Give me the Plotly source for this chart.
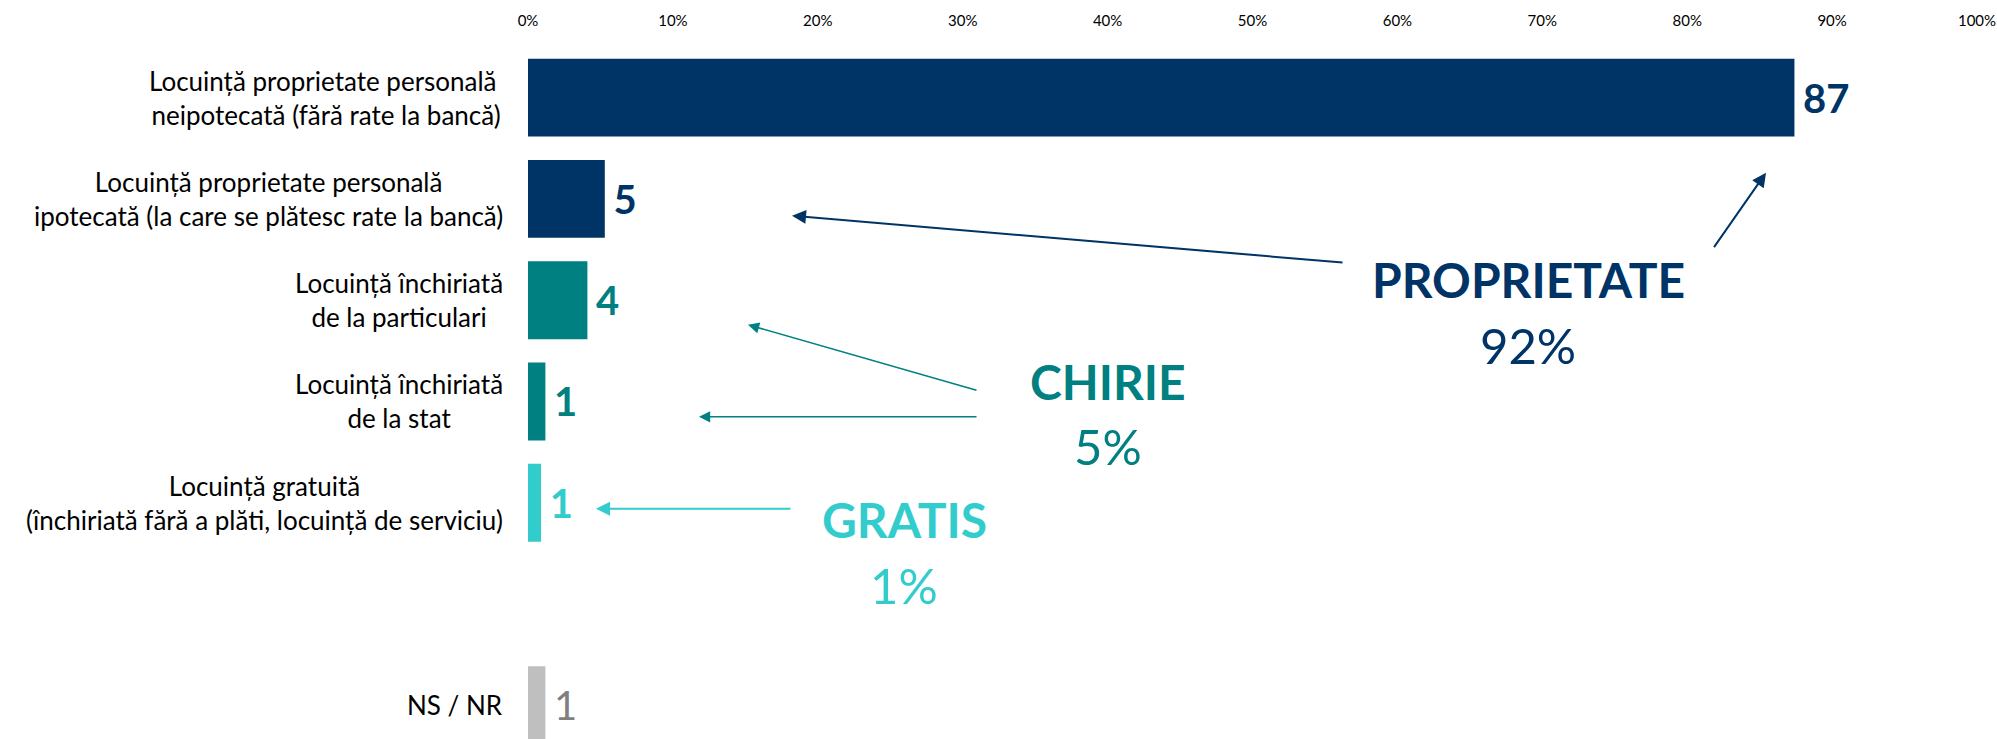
import plotly.graph_objects as go

# ---------------- data ----------------
categories = [
    "Locuință proprietate personală <br>neipotecată (fără rate la bancă)",
    "Locuință proprietate personală<br>ipotecată (la care se plătesc rate la bancă)",
    "Locuință închiriată<br>de la particulari",
    "Locuință închiriată<br>de la stat",
    "Locuință gratuită<br>(închiriată fără a plăti, locuință de serviciu)",
    "NS / NR",
]
values = [87.4, 5.3, 4.1, 1.2, 0.9, 1.2]
value_labels = ["87", "5", "4", "1", "1", "1"]
bar_colors = ["#003366", "#003366", "#008080", "#008080", "#33CCCC", "#BFBFBF"]
label_colors = ["#003366", "#003366", "#008080", "#008080", "#33CCCC", "#7F7F7F"]
label_bold = [True, True, True, True, True, False]

x_ticks = [0, 10, 20, 30, 40, 50, 60, 70, 80, 90, 100]
x_tick_labels = [f"{t}%" for t in x_ticks]

groups = ["PROPRIETATE", "CHIRIE", "GRATIS"]
group_totals = ["92%", "5%", "1%"]
group_colors = ["#003366", "#008080", "#33CCCC"]

# ---------------- layout geometry ----------------
W, H = 1997, 739
ML, MR, MT, MB = 528, 20, 47.4, 0
PW, PH = W - ML - MR, H - MT - MB
FONT = "Lato, Carlito, Calibri, sans-serif"

spacer = " "
cat_order = categories[:5] + [spacer] + categories[5:]


def px2paper(px, py):
    return (px - ML) / PW, (H - MB - py) / PH


pad = "<span style='font-size:22px'>&nbsp;</span>"
texts = [pad + (f"<b>{l}</b>" if b else l) for l, b in zip(value_labels, label_bold)]

fig = go.Figure()
fig.add_trace(go.Bar(
    x=values,
    y=categories,
    orientation="h",
    marker=dict(color=bar_colors, line=dict(width=0)),
    text=texts,
    textposition="outside",
    textfont=dict(family=FONT, size=40, color=label_colors),
    constraintext="none",
    cliponaxis=False,
    hoverinfo="skip",
))

annotations = []
# category labels (centered lines, block right-aligned)
for c in categories:
    annotations.append(dict(
        text=c, xref="paper", yref="y", x=(505 - ML) / PW, y=c,
        xanchor="right", yanchor="middle", align="center", showarrow=False,
        font=dict(family=FONT, size=26, color="#000000"),
    ))

# group labels
group_pos = [(1528, 280, 345), (1108, 382, 446), (904, 520, 585)]
for g, t, col, (cx, y1, y2) in zip(groups, group_totals, group_colors, group_pos):
    xp, yp = px2paper(cx, y1)
    annotations.append(dict(text=f"<b>{g}</b>", xref="paper", yref="paper", x=xp, y=yp,
                            xanchor="center", yanchor="middle", showarrow=False,
                            font=dict(family=FONT, size=48, color=col)))
    xp, yp = px2paper(cx, y2)
    annotations.append(dict(text=t, xref="paper", yref="paper", x=xp, y=yp,
                            xanchor="center", yanchor="middle", showarrow=False,
                            font=dict(family=FONT, size=49, color=col)))

# arrows: (head_x, head_y, tail_x, tail_y, color, width)
arrows = [
    (792, 216, 1344, 263, "#003366", 2),
    (1766, 173, 1713, 249, "#003366", 2),
    (748, 325, 978, 391, "#008080", 1.6),
    (699, 417, 978, 417, "#008080", 1.6),
    (596, 509, 792, 509, "#33CCCC", 2),
]
for hx, hy, tx, ty, col, w in arrows:
    xp, yp = px2paper(hx, hy)
    annotations.append(dict(text="", xref="paper", yref="paper", x=xp, y=yp,
                            ax=tx - hx, ay=ty - hy, axref="pixel", ayref="pixel",
                            showarrow=True, arrowhead=2, arrowsize=1.4, arrowwidth=w,
                            arrowcolor=col, standoff=0, startstandoff=0))

fig.update_layout(
    width=W, height=H,
    margin=dict(l=ML, r=MR, t=MT, b=MB, pad=0, autoexpand=False),
    paper_bgcolor="white", plot_bgcolor="white",
    bargap=0.23,
    showlegend=False,
    font=dict(family=FONT, color="#000000"),
    xaxis=dict(
        range=[0, 100], side="top", tickvals=x_ticks, ticktext=x_tick_labels,
        tickfont=dict(family=FONT, size=15, color="#000000"),
        showgrid=False, zeroline=False, showline=False, ticks="",
        ticklabelstandoff=17, fixedrange=True, automargin=False,
    ),
    yaxis=dict(
        type="category", categoryorder="array", categoryarray=cat_order,
        range=[6.334, -0.5], showticklabels=False, showgrid=False,
        zeroline=False, showline=False, ticks="", fixedrange=True, automargin=False,
    ),
    annotations=annotations,
)

fig.write_html(
    "out.html",
    config={"displayModeBar": False, "staticPlot": True},
    post_script="document.body.style.margin='0';document.body.style.overflow='hidden';",
)
